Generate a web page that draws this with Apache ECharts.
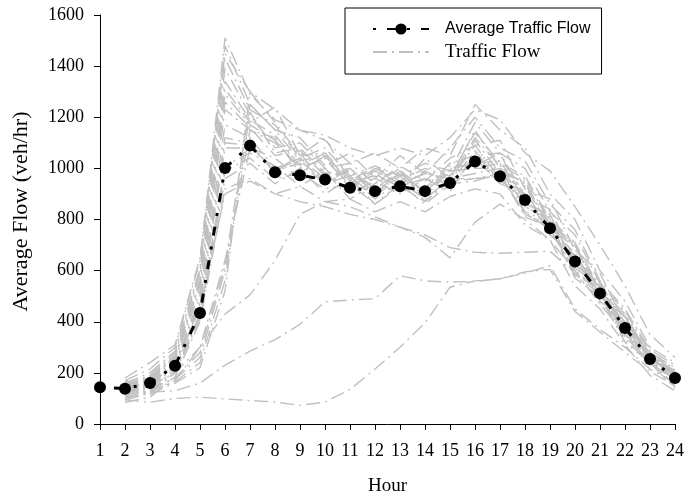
<!DOCTYPE html>
<html>
<head>
<meta charset="utf-8">
<script src="https://cdn.jsdelivr.net/npm/echarts@6/dist/echarts.min.js"></script>
<style>
html,body{margin:0;padding:0;background:#fff;}
#chart{width:698px;height:501px;}
</style>
</head>
<body>
<div id="chart"></div>
<script>
// ---- data ----
const hours = ['1','2','3','4','5','6','7','8','9','10','11','12','13','14','15','16','17','18','19','20','21','22','23','24'];
const yMin = 0, yMax = 1600, yStep = 200;

const averageFlow = [144,138,160,228,434,1001,1089,985,973,956,924,911,930,911,943,1027,969,876,766,636,511,376,254,180];

// individual days (Traffic Flow); no grey line is visible at hour 1
const day01 = ['-',140,170,265,560,1310,1180,1240,1050,1120,950,1010,930,1040,960,1150,1000,940,780,700,520,420,260,200];
const day02 = ['-',120,150,240,480,1120,1100,980,1060,940,1000,900,980,910,1010,1010,1060,860,820,610,540,360,270,170];
const day03 = ['-',160,200,285,610,1480,1250,1150,1120,1010,1060,960,1050,980,1080,1200,1080,1030,860,760,560,450,290,230];
const day04 = ['-',105,130,215,430,1010,1060,1010,930,990,880,940,1000,870,960,980,1000,830,790,590,520,340,250,150];
const day05 = ['-',150,185,270,590,1390,1210,1080,1100,1000,1020,940,1010,950,1040,1090,1110,920,880,680,590,390,300,190];
const day06 = ['-',130,160,250,520,1230,1150,1120,980,1050,930,980,920,990,940,1110,980,950,760,700,500,420,240,200];
const day07 = ['-',95,120,200,410,960,1020,940,1000,900,960,860,940,860,940,950,980,810,770,570,500,320,240,140];
const day08 = ['-',170,215,300,640,1510,1290,1190,1150,1110,1020,1060,1000,1080,1050,1250,1150,1080,900,800,600,480,300,240];
const day09 = ['-',125,155,235,500,1170,1120,1000,1040,960,990,900,990,900,1000,1020,1030,870,810,620,550,360,270,170];
const day10 = ['-',145,180,260,570,1340,1190,1130,1010,1060,940,1000,950,1000,970,1140,1020,970,800,710,530,430,260,210];
const day11 = ['-',110,140,225,460,1080,1080,1040,960,1000,900,950,900,960,910,1060,950,900,740,660,480,390,230,180];
const day12 = ['-',135,165,255,540,1260,1160,1050,1070,970,990,920,990,920,1020,1050,1060,890,840,640,560,370,280,180];
const day13 = ['-',155,190,280,600,1430,1230,1170,1040,1080,970,1010,970,1020,990,1180,1060,1000,830,740,550,440,280,220];
const day14 = ['-',100,125,205,420,990,1040,960,980,920,940,860,930,870,950,960,980,820,780,580,510,330,240,145];
const day15 = ['-',140,175,265,550,1290,1170,1110,1000,1040,930,990,940,980,960,1120,1010,960,790,700,520,420,260,205];
const day16 = ['-',118,148,230,470,1100,1090,990,1020,940,970,890,970,890,990,1000,1020,850,800,610,540,350,265,165];
const day17 = ['-',180,240,310,650,1450,1300,1230,1150,1130,1080,1050,1080,1050,1120,1230,1190,1060,990,850,700,540,350,260];
const day18 = ['-',85,105,185,400,920,960,900,930,870,880,830,870,830,890,920,900,780,720,540,450,310,190,130];
const day19 = ['-',170,140,175,260,600,1150,1100,1000,1040,930,960,920,960,930,1040,940,900,740,660,500,400,255,200];
const day20 = ['-',160,130,165,240,560,1220,1060,1080,980,1000,920,980,910,990,1000,1000,850,800,630,550,380,280,190];
const day21 = ['-',150,120,160,220,520,1300,1180,1050,1060,960,990,940,980,960,1090,960,930,770,690,520,420,270,215];
const day22 = ['-',140,115,170,300,640,1080,1000,1030,950,970,880,950,880,960,960,970,830,760,600,520,350,260,170];
const day23 = ['-',165,135,180,280,620,1250,1150,1030,1050,950,970,930,960,940,1070,950,910,760,670,505,405,255,205];
const day24 = ['-',95,85,100,105,98,92,86,73,86,135,215,300,395,535,560,568,595,605,440,360,280,205,150];
const day25 = ['-',120,125,130,160,230,285,330,390,478,485,490,580,560,555,558,568,590,620,450,370,300,215,160];
const day26 = ['-',130,150,200,300,430,505,640,820,870,850,810,770,740,690,672,668,672,676,590,480,370,260,185];
const day27 = ['-',140,160,230,450,900,950,900,870,850,820,800,770,730,650,790,860,800,720,600,470,350,240,170];

const dayFlows = [day01,day02,day03,day04,day05,day06,day07,day08,day09,day10,day11,day12,day13,day14,
                  day15,day16,day17,day18,day19,day20,day21,day22,day23,day24,day25,day26,day27];

// ---- chart ----
const chart = echarts.init(document.getElementById('chart'), null, {renderer: 'canvas'});

const serif = 'Liberation Serif, Times New Roman, serif';
const sans = 'Liberation Sans, Arial, sans-serif';

const series = dayFlows.map(d => ({
  type: 'line',
  name: 'Traffic Flow',
  data: d,
  symbol: 'none',
  silent: true,
  z: 1,
  itemStyle: {color: '#c0c0c0'},
  lineStyle: {color: '#c0c0c0', width: 1.4, type: [14, 5, 2, 5]}
}));

series.push({
  type: 'line',
  name: 'Average Traffic Flow',
  data: averageFlow,
  symbol: 'circle',
  symbolSize: 12,
  z: 10,
  itemStyle: {color: '#000'},
  lineStyle: {color: '#000', width: 3, type: [3, 11, 9, 11]}
});

chart.setOption({
  animation: false,
  backgroundColor: '#fff',
  grid: {left: 100, right: 23, top: 15, bottom: 72, containLabel: false},
  legend: {
    left: 345, top: 8, orient: 'vertical',
    padding: [11, 11, 12, 27],
    borderColor: '#000', borderWidth: 1,
    itemWidth: 56, itemHeight: 14, itemGap: 3,
    textStyle: {color: '#000'},
    data: [
      {name: 'Average Traffic Flow', textStyle: {fontFamily: sans, fontSize: 16, lineHeight: 20, padding: [0,0,0,11]}},
      {name: 'Traffic Flow', itemStyle: {color: 'rgba(0,0,0,0)', borderWidth: 0},
       textStyle: {fontFamily: serif, fontSize: 19, lineHeight: 20, padding: [0,0,0,11]}}
    ]
  },
  xAxis: {
    type: 'category',
    data: hours,
    boundaryGap: false,
    name: 'Hour',
    nameLocation: 'middle',
    nameGap: 53,
    nameTextStyle: {fontFamily: serif, fontSize: 19, color: '#000'},
    axisLine: {lineStyle: {color: '#000', width: 1}},
    axisTick: {show: true, inside: false, length: 6, interval: 0, lineStyle: {color: '#000'}},
    axisLabel: {fontFamily: serif, fontSize: 18, color: '#000', margin: 18, interval: 0},
    splitLine: {show: false}
  },
  yAxis: {
    type: 'value',
    min: yMin, max: yMax, interval: yStep,
    name: 'Average Flow (veh/hr)',
    nameLocation: 'middle',
    nameGap: 68,
    nameTextStyle: {fontFamily: serif, fontSize: 22, color: '#000', padding: [0,0,0,16]},
    axisLine: {show: true, lineStyle: {color: '#000', width: 1}},
    axisTick: {show: true, inside: false, length: 6, lineStyle: {color: '#000'}},
    axisLabel: {fontFamily: serif, fontSize: 18, color: '#000', margin: 16, formatter: v => String(v)},
    splitLine: {show: false}
  },
  series: series
});
</script>
</body>
</html>
